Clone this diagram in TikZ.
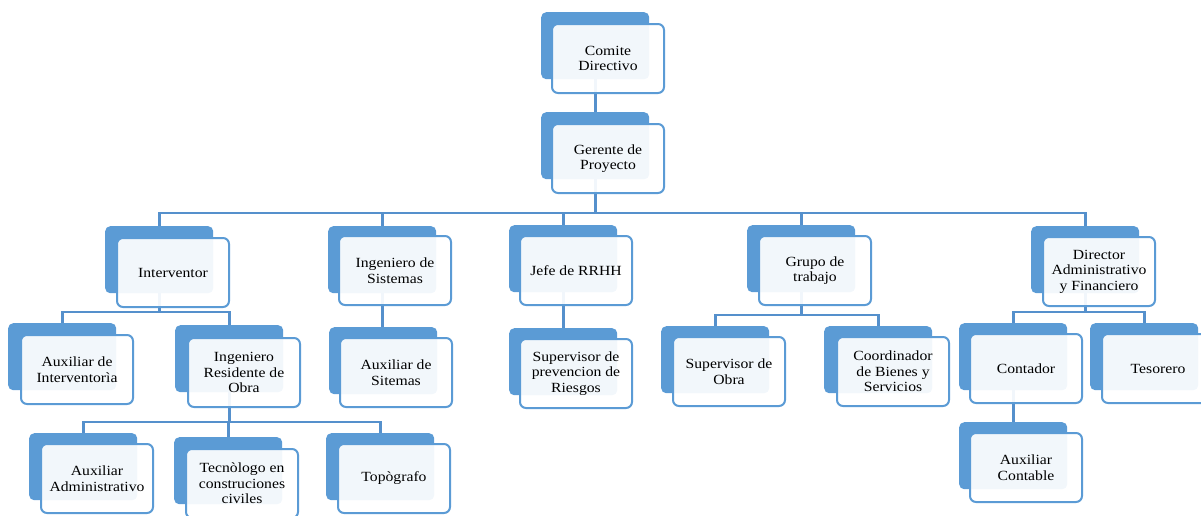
\documentclass[tikz,border=0pt]{standalone}
\usepackage{fontspec}
\setmainfont{Liberation Serif}[FakeStretch=1.12]
\definecolor{orgblue}{HTML}{5B9BD5}
\definecolor{lineblue}{HTML}{5590CC}
\begin{document}
\begin{tikzpicture}[x=1pt,y=-1pt,
  backbox/.style={fill=orgblue, rounded corners=5pt, minimum width=108pt, minimum height=67pt, inner sep=0pt, anchor=north west},
  frontbox/.style={draw=orgblue, line width=2pt, fill=white, fill opacity=0.92, text opacity=1, rounded corners=6pt, minimum width=112pt, minimum height=69pt, inner sep=1pt, anchor=north west, align=center, font=\fontsize{14pt}{15.5pt}\selectfont},
  conn/.style={draw=lineblue, line width=2.7pt}]
\useasboundingbox (0,0) rectangle (1201,515);
% back boxes
\node[backbox] (cdB) at (541,12) {};
\node[backbox] (gpB) at (541,112) {};
\node[backbox] (ivB) at (105,226) {};
\node[backbox] (aiB) at (8,323) {};
\node[backbox] (irB) at (175,325) {};
\node[backbox] (aaB) at (29,433) {};
\node[backbox] (tcB) at (174,437) {};
\node[backbox] (tpB) at (326,433) {};
\node[backbox] (isB) at (328,226) {};
\node[backbox] (asB) at (329,327) {};
\node[backbox] (jrB) at (509,225) {};
\node[backbox] (spB) at (509,328) {};
\node[backbox] (gtB) at (747,225) {};
\node[backbox] (soB) at (661,326) {};
\node[backbox] (cbB) at (824,326) {};
\node[backbox] (daB) at (1031,226) {};
\node[backbox] (coB) at (959,323) {};
\node[backbox] (tsB) at (1090,323) {};
\node[backbox] (acB) at (959,422) {};
% bar levels
\coordinate (barA) at (0,213);
\coordinate (barB) at (0,312);
\coordinate (barC) at (0,422);
\coordinate (barD) at (0,315);
% connectors
\draw[conn] (cdB.south) -- (gpB.north);
\draw[conn] (gpB.south) -- (gpB.south |- barA);
\draw[conn] (gpB.south |- barA) -| (ivB.north);
\draw[conn] (gpB.south |- barA) -| (isB.north);
\draw[conn] (gpB.south |- barA) -| (jrB.north);
\draw[conn] (gpB.south |- barA) -| (gtB.north);
\draw[conn] (gpB.south |- barA) -| (daB.north);
\draw[conn] (ivB.south) -- (ivB.south |- barB);
\draw[conn] (ivB.south |- barB) -| (aiB.north);
\draw[conn] (ivB.south |- barB) -| (irB.north);
\draw[conn] (irB.south) -- (irB.south |- barC);
\draw[conn] (irB.south |- barC) -| (aaB.north);
\draw[conn] (irB.south |- barC) -| (tcB.north);
\draw[conn] (irB.south |- barC) -| (tpB.north);
\draw[conn] (isB.south) -- (isB.south |- asB.north);
\draw[conn] (jrB.south) -- (jrB.south |- spB.north);
\draw[conn] (gtB.south) -- (gtB.south |- barD);
\draw[conn] (gtB.south |- barD) -| (soB.north);
\draw[conn] (gtB.south |- barD) -| (cbB.north);
\draw[conn] (daB.south) -- (daB.south |- barB);
\draw[conn] (daB.south |- barB) -| (coB.north);
\draw[conn] (daB.south |- barB) -| (tsB.north);
\draw[conn] (coB.south) -- (coB.south |- acB.north);
% front boxes
\node[frontbox] (cd) at (551,23) {Comite\\Directivo};
\node[frontbox] (gp) at (551,123) {Gerente de\\Proyecto};
\node[frontbox] (iv) at (116,237) {Interventor};
\node[frontbox] (ai) at (20,334) {Auxiliar de\\Interventorìa};
\node[frontbox] (ir) at (187,337) {Ingeniero\\Residente de\\Obra};
\node[frontbox] (aa) at (40,443) {Auxiliar\\Administrativo};
\node[frontbox] (tc) at (185,448) {Tecnòlogo en\\construciones\\civiles};
\node[frontbox] (tp) at (337,443) {Topògrafo};
\node[frontbox] (is) at (338,235) {Ingeniero de\\Sistemas};
\node[frontbox] (as) at (339,337) {Auxiliar de\\Sitemas};
\node[frontbox] (jr) at (519,235) {Jefe de RRHH};
\node[frontbox] (sp) at (519,338) {Supervisor de\\prevencion de\\Riesgos};
\node[frontbox] (gt) at (758,235) {Grupo de\\trabajo};
\node[frontbox] (so) at (672,336) {Supervisor de\\Obra};
\node[frontbox] (cb) at (836,336) {Coordinador\\de Bienes y\\Servicios};
\node[frontbox] (da) at (1042,236) {Director\\Administrativo\\y Financiero};
\node[frontbox] (co) at (969,333) {Contador};
\node[frontbox] (ts) at (1101,333) {Tesorero};
\node[frontbox] (ac) at (969,432) {Auxiliar\\Contable};
\end{tikzpicture}
\end{document}
